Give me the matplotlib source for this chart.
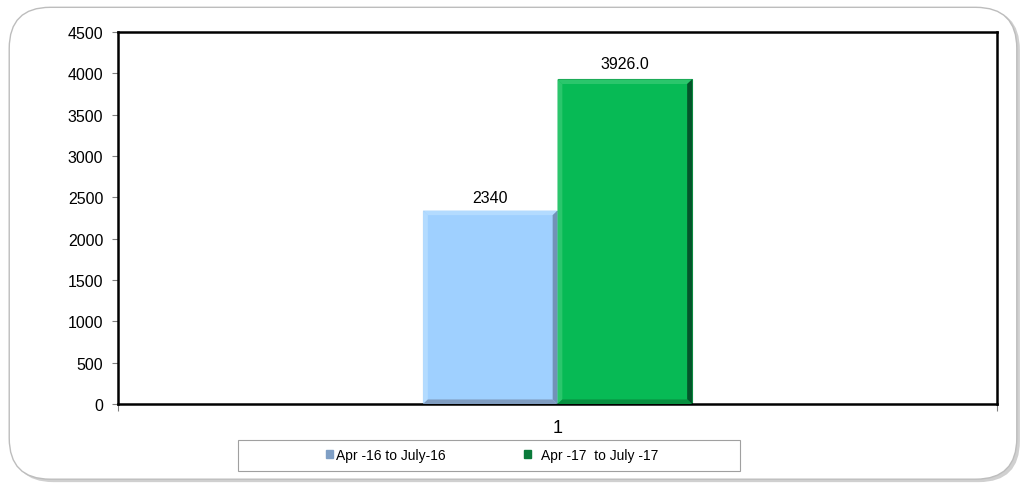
import numpy as np
import matplotlib
matplotlib.use("Agg")
import matplotlib.pyplot as plt
from matplotlib.patches import FancyBboxPatch, Rectangle, Polygon

plt.rcParams['font.family'] = ['Liberation Sans', 'DejaVu Sans']

# data
categories = ["1"]
series_names = ["Apr -16 to July-16", "  Apr -17  to July -17"]
values_2016 = [2340]
values_2017 = [3926.0]
labels_2016 = ["2340"]
labels_2017 = ["3926.0"]
y_ticks = [0, 500, 1000, 1500, 2000, 2500, 3000, 3500, 4000, 4500]


def bevel(ax, bars, light, dark, bottom):
    # fake the excel bevel: lighter top/left strips, darker right/bottom strips
    bx = 0.0055
    by = 55
    for r in bars:
        x0, w, h = r.get_x(), r.get_width(), r.get_height()
        x1 = x0 + w
        strips = [
            ([(x0, h), (x1, h), (x1 - bx, h - by), (x0 + bx, h - by)], light),
            ([(x0, 0), (x0, h), (x0 + bx, h - by), (x0 + bx, by)], light),
            ([(x1, 0), (x1, h), (x1 - bx, h - by), (x1 - bx, by)], dark),
            ([(x0, 0), (x1, 0), (x1 - bx, by), (x0 + bx, by)], bottom),
        ]
        for pts, c in strips:
            ax.add_patch(Polygon(pts, closed=True, facecolor=c, edgecolor="none", zorder=3))


fig = plt.figure(figsize=(10.25, 4.89), dpi=100)

# rounded outer frame with a bit of shadow
shadow = FancyBboxPatch((0.012, 0.012), 0.983, 0.968, boxstyle="round,pad=0,rounding_size=0.04",
                        transform=fig.transFigure, facecolor="#d0d0d0", edgecolor="none", zorder=-2,
                        mutation_aspect=2.1)
frame = FancyBboxPatch((0.009, 0.018), 0.983, 0.965, boxstyle="round,pad=0,rounding_size=0.04",
                       transform=fig.transFigure, facecolor="white", edgecolor="#bdbdbd", lw=1.0, zorder=-1,
                       mutation_aspect=2.1)
fig.patches.extend([shadow, frame])

ax = fig.add_axes([118/1025, 1-405/489, (997-118)/1025, (405-33)/489])
ax.set_facecolor("none")

x = np.arange(len(categories))
w = 0.153
b1 = ax.bar(x - w/2, values_2016, w, color="#9fd0ff", edgecolor="#8fb0d0", linewidth=0.8,
            label=series_names[0], zorder=2)
b2 = ax.bar(x + w/2, values_2017, w, color="#07ba55", edgecolor="#0a8a40", linewidth=0.8,
            label=series_names[1], zorder=2)
bevel(ax, b1, "#b3dbff", "#7292b8", "#7f9cc0")
bevel(ax, b2, "#2bc66c", "#04552a", "#079040")
ax.bar_label(b1, labels=labels_2016, padding=4, fontsize=11.5)
ax.bar_label(b2, labels=labels_2017, padding=6, fontsize=11.5)

ax.set_xlim(-0.5, 0.5)
ax.set_ylim(0, 4500)
ax.set_yticks(y_ticks)
ax.tick_params(axis='y', labelsize=11.5, length=4.5, width=0.8, color="#808080", pad=6)

ax.set_xticks([-0.5, 0.5])
ax.set_xticklabels(["", ""])
ax.tick_params(axis='x', length=5, width=0.8, color="#808080")
ax.text(0, -0.04, categories[0], transform=ax.get_xaxis_transform(), ha="center", va="top", fontsize=13)

for s in ax.spines.values():
    s.set_linewidth(1.8)
    s.set_color("black")

# legend box drawn separately, entries centered inside
fig.patches.append(Rectangle((238/1025, 1-472/489), (740-238)/1025, 31/489, transform=fig.transFigure,
                             facecolor="white", edgecolor="#a0a0a0", lw=0.8, zorder=1))
h1 = Rectangle((0, 0), 1, 1, facecolor="#7f9fc5", edgecolor="#7f9fc5")
h2 = Rectangle((0, 0), 1, 1, facecolor="#0a7a3a", edgecolor="#0a7a3a")
leg = fig.legend([h1, h2], series_names, loc="center", bbox_to_anchor=(492/1025, 1-456/489),
                 ncol=2, frameon=False, fontsize=10, handlelength=0.55, handleheight=0.55,
                 columnspacing=5.6, handletextpad=0.2)
leg.set_zorder(2)

fig.savefig("out.png", dpi=100)
